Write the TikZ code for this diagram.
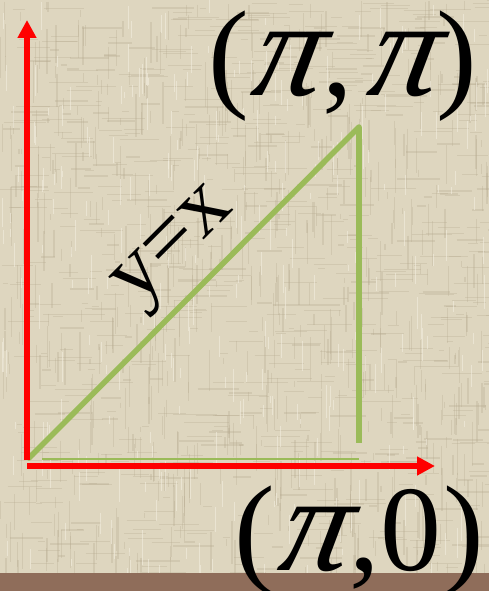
\documentclass[tikz,border=0pt]{standalone}
\usepackage{fontspec}
\setmainfont{Liberation Serif}
\newfontfamily\pifont[FakeSlant=0.2]{Liberation Serif Italic}
\usetikzlibrary{arrows.meta}
\definecolor{linen}{HTML}{DED6BF}
\definecolor{linendark}{HTML}{B5AA8E}
\definecolor{linenlight}{HTML}{F3EEE0}
\definecolor{strip}{HTML}{8F6D5A}
\definecolor{olive}{HTML}{9BBB59}
\newcommand{\mypi}{{\fontsize{138}{138}\pifont π}}
\tikzset{
  axis/.style={red, line width=6pt, -{Triangle[width=18pt,length=18pt]}},
  edge/.style={olive, line width=5.5pt},
  thinedge/.style={olive, line width=1.6pt},
  bigtext/.style={inner sep=0pt, font=\fontsize{122}{122}\selectfont},
  label/.style={inner sep=0pt, font=\fontsize{88}{88}\selectfont, rotate=45}
}
\begin{document}
\begin{tikzpicture}[x=1pt,y=-1pt]
\useasboundingbox (0,0) rectangle (489,591);
% background with linen texture
\fill[linen] (0,0) rectangle (489,591);
\pgfmathsetseed{11}
\foreach \i in {1,...,700}{
  \pgfmathsetmacro\xx{rnd*489}
  \pgfmathsetmacro\ys{rnd*573}
  \pgfmathsetmacro\ln{5+rnd*40}
  \pgfmathsetmacro\lw{0.5+rnd*1.4}
  \draw[linendark, opacity=0.3, line width=\lw pt] (\xx,\ys) -- (\xx,{min(\ys+\ln,573)});
}
\foreach \i in {1,...,700}{
  \pgfmathsetmacro\yy{rnd*573}
  \pgfmathsetmacro\xs{rnd*489}
  \pgfmathsetmacro\ln{5+rnd*40}
  \pgfmathsetmacro\lw{0.5+rnd*1.4}
  \draw[linendark, opacity=0.3, line width=\lw pt] (\xs,\yy) -- ({min(\xs+\ln,489)},\yy);
}
\foreach \i in {1,...,300}{
  \pgfmathsetmacro\xx{rnd*489}
  \pgfmathsetmacro\ys{rnd*573}
  \pgfmathsetmacro\ln{5+rnd*30}
  \draw[linenlight, opacity=0.6, line width=1pt] (\xx,\ys) -- (\xx,{min(\ys+\ln,573)});
}
\fill[strip] (0,573) rectangle (489,591);
% coordinates
\coordinate (O) at (27,460);
\coordinate (Ytip) at (27,20);
\coordinate (Xs) at (27,466);
\coordinate (Xtip) at (435,466);
\coordinate (G0) at (29,458);
\coordinate (P) at (359,127);
\coordinate (Q) at (359,443);
\coordinate (H0) at (42,459);
\coordinate (H1) at (359,459);
% green triangle
\draw[thinedge] (H0) -- (H1);
\draw[edge, line cap=round] (G0) -- (P);
\draw[edge] (P) -- (Q);
% axes
\draw[axis] (O) -- (Ytip);
\draw[axis] (Xs) -- (Xtip);
% labels
\node[bigtext, anchor=base west] (top) at (208,96) {(\hspace{1pt}\mypi\hspace{4pt},\hspace{12pt}\mypi\hspace{2pt})};
\node[bigtext, anchor=base west] (bot) at (234,570) {(\hspace{2pt}\mypi\hspace{4pt},0\hspace{2pt})};
\node[label] (yx) at (178,250) {y=x};
\end{tikzpicture}
\end{document}
